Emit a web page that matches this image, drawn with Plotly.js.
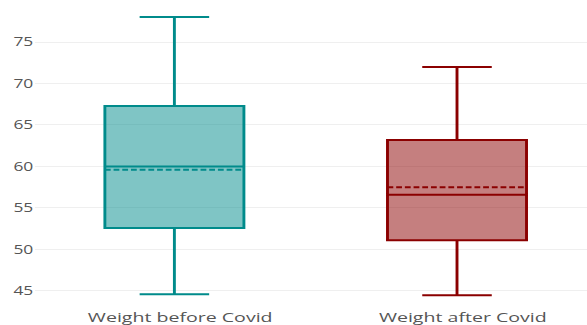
<!DOCTYPE html>
<html>
<head>
<meta charset="utf-8">
<script src="https://cdn.plot.ly/plotly-3.0.1.min.js"></script>
<style>
  html, body { margin: 0; padding: 0; background: #fff; overflow: hidden; }
  #wrap { width: 405px; height: 325px; transform: scaleX(1.4494); transform-origin: 0 0; }
</style>
</head>
<body>
<div id="wrap"></div>
<script>
// Body weight (kg) summary statistics, before and after Covid
const categories = ["Weight before Covid", "Weight after Covid"];
const lowerFence = [44.6, 44.5];
const q1 = [52.6, 51.1];
const median = [60.0, 56.6];
const mean = [59.6, 57.5];
const q3 = [67.3, 63.2];
const upperFence = [78.0, 72.0];
const yTicks = [45, 50, 55, 60, 65, 70, 75];

const lineColors = ["#008b8b", "#8b0000"];
const fillColors = ["rgba(0,139,139,0.5)", "rgba(139,0,0,0.5)"];

const traces = categories.map((c, i) => ({
  type: "box",
  name: c,
  x: [c],
  lowerfence: [lowerFence[i]],
  q1: [q1[i]],
  median: [median[i]],
  mean: [mean[i]],
  q3: [q3[i]],
  upperfence: [upperFence[i]],
  boxmean: true,
  width: 0.492,
  whiskerwidth: 0.5,
  line: { color: lineColors[i], width: 2 },
  fillcolor: fillColors[i],
  showlegend: false,
  hoverinfo: "skip"
}));

const layout = {
  width: 405,
  height: 325,
  margin: { l: 24.1, r: 0, t: 0, b: 17, pad: 0 },
  paper_bgcolor: "#fff",
  plot_bgcolor: "#fff",
  font: { family: "Open Sans, Arial, sans-serif", color: "#555" },
  showlegend: false,
  xaxis: {
    type: "category",
    categoryorder: "array",
    categoryarray: categories,
    range: [-0.494, 1.46],
    showgrid: false,
    zeroline: false,
    showline: false,
    ticks: "",
    ticklabelshift: 4,
    tickfont: { size: 13.5, color: "#555" },
    fixedrange: true
  },
  yaxis: {
    range: [42.95, 80.06],
    tickvals: yTicks,
    ticktext: yTicks.map(String),
    showgrid: true,
    gridcolor: "#efefef",
    gridwidth: 1,
    zeroline: false,
    showline: false,
    ticks: "",
    tickfont: { size: 12, color: "#555" },
    fixedrange: true
  }
};

Plotly.newPlot("wrap", traces, layout, { displayModeBar: false, staticPlot: true });
</script>
</body>
</html>
